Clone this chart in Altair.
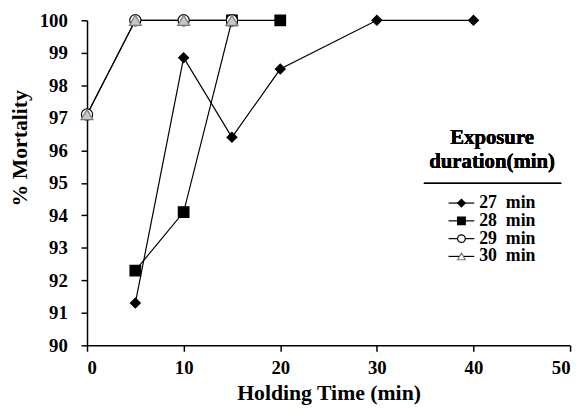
import altair as alt
import pandas as pd

series_names = ["27\u00a0 min", "28\u00a0 min", "29\u00a0 min", "30\u00a0 min"]
x27 = [5, 10, 15, 20, 30, 40]
y27 = [91.3, 98.85, 96.4, 98.5, 100, 100]
x28 = [5, 10, 15, 20]
y28 = [92.3, 94.1, 100, 100]
x29 = [0, 5, 10, 15]
y29 = [97.1, 100, 100, 100]
x30 = [0, 5, 10, 15]
y30 = [97.1, 100, 100, 100]
x_ticks = [0, 10, 20, 30, 40, 50]
y_ticks = [90, 91, 92, 93, 94, 95, 96, 97, 98, 99, 100]
legend_title = ["Exposure", "duration(min)"]

rows = []
for name, xs, ys in zip(series_names, [x27, x28, x29, x30], [y27, y28, y29, y30]):
    for a, b in zip(xs, ys):
        rows.append({"series": name, "x": a, "y": b})
df = pd.DataFrame(rows)
leg = pd.DataFrame({"series": series_names})

FONT = "Liberation Serif"
shape_scale = alt.Scale(domain=series_names, range=["diamond", "square", "circle", "triangle-up"])
fill_scale = alt.Scale(domain=series_names, range=["black", "black", "white", "#c8c8c8"])
leg_fill_scale = alt.Scale(domain=series_names, range=["black", "black", "white", "white"])
stroke_scale = alt.Scale(domain=series_names, range=["black", "black", "black", "#777777"])
size_scale = alt.Scale(domain=series_names, range=[100, 144, 144, 45])

xenc = alt.X("x:Q", scale=alt.Scale(domain=[0, 50]),
             axis=alt.Axis(values=x_ticks, title="Holding Time (min)", grid=False,
                           tickSize=6, labelPadding=8, titlePadding=5))
yenc = alt.Y("y:Q", scale=alt.Scale(domain=[90, 100]),
             axis=alt.Axis(values=y_ticks, title="% Mortality", grid=False,
                           tickSize=6, labelPadding=14, titlePadding=8, titleY=129))

lines = alt.Chart(df).mark_line(color="black", strokeWidth=1.2).encode(
    x=xenc, y=yenc, detail="series:N")
points = alt.Chart(df).mark_point(filled=False, opacity=1, strokeWidth=1.2).encode(
    x=xenc, y=yenc,
    shape=alt.Shape("series:N", scale=shape_scale, legend=None),
    fill=alt.Fill("series:N", scale=fill_scale, legend=None),
    stroke=alt.Stroke("series:N", scale=stroke_scale, legend=None),
    size=alt.Size("series:N", scale=size_scale, legend=None),
)
main = alt.layer(lines, points)

ly = alt.Y("series:N", scale=alt.Scale(type="point", domain=series_names, range=[185, 239], padding=0), axis=None)
leg_rule = alt.Chart(leg).mark_rule(color="black", strokeWidth=1.2).encode(
    x=alt.value(366), x2=alt.value(392), y=ly)
leg_pts = alt.Chart(leg).mark_point(filled=False, opacity=1, strokeWidth=1.2).encode(
    x=alt.value(379), y=ly,
    shape=alt.Shape("series:N", scale=shape_scale, legend=None),
    fill=alt.Fill("series:N", scale=leg_fill_scale, legend=None),
    stroke=alt.Stroke("series:N", scale=stroke_scale, legend=None),
    size=alt.value(60),
)
leg_txt = alt.Chart(leg).mark_text(align="left", baseline="middle", font=FONT,
                                   fontSize=18, fontWeight="bold", color="black").encode(
    x=alt.value(397), y=ly, text="series:N")
leg_title = alt.Chart(leg).mark_text(text=legend_title, align="center", baseline="alphabetic",
                                     lineHeight=25, font=FONT, fontSize=21, fontWeight="bold",
                                     color="black").encode(x=alt.value(410), y=alt.value(125))
leg_line = alt.Chart(leg).mark_rule(color="black", strokeWidth=1.2).encode(
    x=alt.value(341), x2=alt.value(480), y=alt.value(165))
legend = alt.layer(leg_rule, leg_pts, leg_txt, leg_title, leg_line)

chart = alt.layer(main, legend).resolve_scale(y="independent", fill="independent").properties(
    width=489, height=329,
    autosize=alt.AutoSizeParams(type="none"),
    padding={"left": 80, "top": 10, "right": 8, "bottom": 63},
).configure_view(stroke=None).configure_axis(
    labelFont=FONT, labelFontSize=19, labelFontWeight="bold", labelColor="black",
    titleFont=FONT, titleFontSize=22, titleFontWeight="bold", titleColor="black",
    domainColor="black", domainWidth=1.5, tickColor="black", tickWidth=1.5,
)

chart.save("out.html", embed_options={"renderer": "svg", "actions": False})
